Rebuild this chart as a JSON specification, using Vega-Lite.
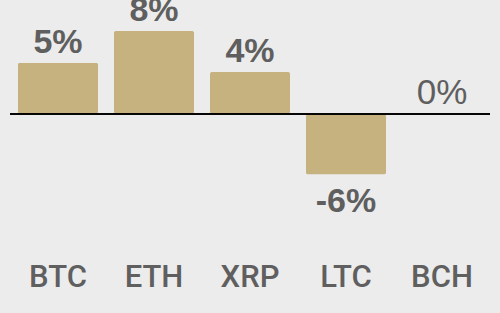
{
  "$schema": "https://vega.github.io/schema/vega-lite/v6.json",
  "width": 480,
  "height": 240,
  "autosize": {"type": "none"},
  "padding": {"left": 10, "right": 10, "top": 0, "bottom": 73},
  "background": "#ececec",
  "config": {"view": {"stroke": null}, "font": "Liberation Sans", "locale": {"number": {"decimal": ".", "thousands": ",", "grouping": [3], "currency": ["$", ""], "minus": "-"}}},
  "data": {
    "values": [
      {"coin": "BTC", "change": 0.050},
      {"coin": "ETH", "change": 0.081},
      {"coin": "XRP", "change": 0.041},
      {"coin": "LTC", "change": -0.059},
      {"coin": "BCH", "change": 0.0}
    ]
  },
  "encoding": {
    "x": {
      "field": "coin",
      "type": "nominal",
      "sort": null,
      "scale": {"paddingInner": 0.16667, "paddingOuter": 0.08333},
      "axis": {
        "title": null,
        "domain": false,
        "ticks": false,
        "labelAngle": 0,
        "labelPadding": 22,
        "labelFontSize": 31,
        "labelFontWeight": 500,
        "labelColor": "#5f5f5f",
        "labelFont": "Roboto"
      }
    },
    "y": {
      "field": "change",
      "type": "quantitative",
      "scale": {"domain": [-0.1229, 0.1112], "nice": false},
      "axis": null
    }
  },
  "layer": [
    {"mark": {"type": "bar", "color": "#c6b27f", "cornerRadius": 2}},
    {
      "mark": {"type": "rule", "color": "#000000", "strokeWidth": 1},
      "encoding": {"y": {"datum": 0}, "x": {}}
    },
    {
      "transform": [{"filter": "datum.change > 0"}],
      "mark": {"type": "text", "baseline": "alphabetic", "dy": -10, "fontSize": 34, "fontWeight": "bold", "color": "#5f5f5f"},
      "encoding": {"text": {"field": "change", "format": ".0%"}}
    },
    {
      "transform": [{"filter": "datum.change == 0"}],
      "mark": {"type": "text", "baseline": "alphabetic", "dy": -10, "fontSize": 35, "fontWeight": "normal", "color": "#5f5f5f"},
      "encoding": {"text": {"field": "change", "format": ".0%"}}
    },
    {
      "transform": [{"filter": "datum.change < 0"}],
      "mark": {"type": "text", "baseline": "alphabetic", "dy": 38, "fontSize": 34, "fontWeight": "bold", "color": "#5f5f5f"},
      "encoding": {"text": {"field": "change", "format": ".0%"}}
    }
  ]
}
